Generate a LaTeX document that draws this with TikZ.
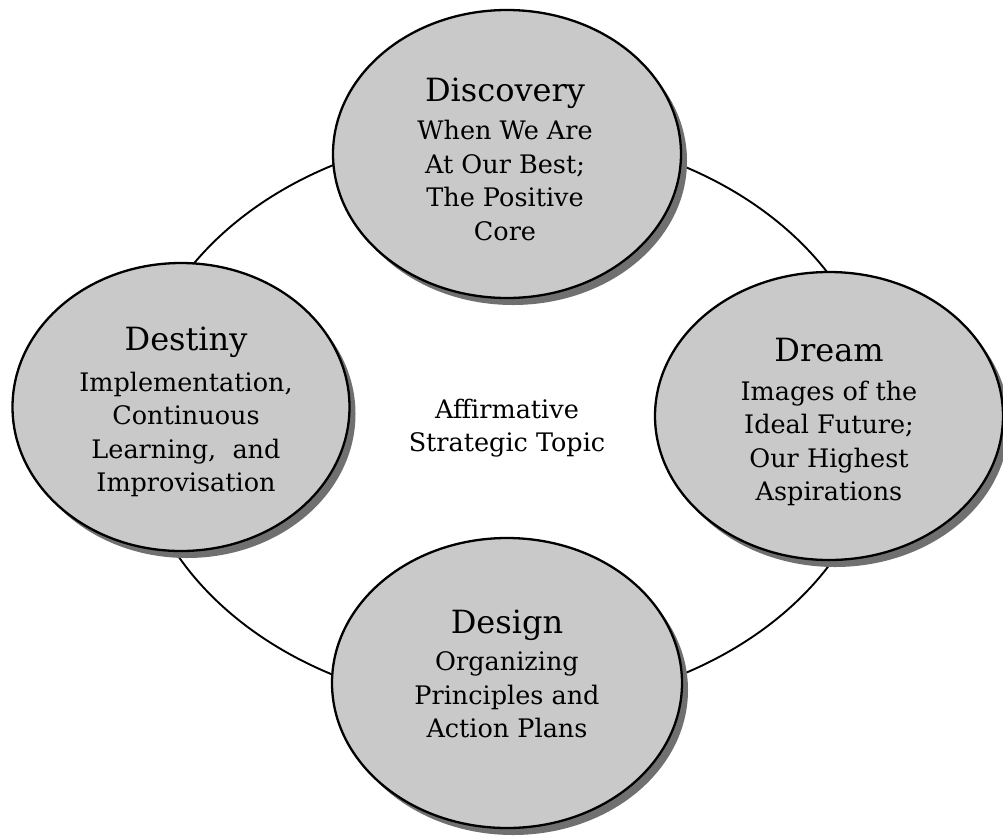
\documentclass[tikz,border=0pt]{standalone}
\usepackage{fontspec}
\setmainfont{DejaVu Serif}
\usetikzlibrary{shapes.geometric,shadows}
\definecolor{phasefill}{RGB}{201,201,201}
\definecolor{phaseshade}{RGB}{112,112,112}
\newcommand{\phasetitle}[1]{{\fontsize{32}{36}\selectfont #1}}
\begin{document}
\begin{tikzpicture}[x=1pt,y=-1pt,
  phase/.style={ellipse, draw=black, line width=2.3pt, fill=phasefill, inner sep=0pt,
    drop shadow={shadow xshift=6pt, shadow yshift=-7pt, fill=phaseshade, opacity=1}},
  phasetext/.style={align=center, inner sep=0pt, font=\fontsize{25.5}{33.5}\selectfont},
  cycle/.style={draw=black, line width=1.9pt}]
\useasboundingbox (0,0) rectangle (1003,839);

% the cycle joining the four phases
\draw[cycle] (507,420) ellipse [x radius=373pt, y radius=288pt];

% the four phases
\node[phase, minimum width=348pt, minimum height=288pt] (disc) at (507,154) {};
\node[phase, minimum width=337pt, minimum height=288pt] (dest) at (181,407) {};
\node[phase, minimum width=348pt, minimum height=288pt] (drm)  at (829,416) {};
\node[phase, minimum width=350pt, minimum height=290pt] (dsg)  at (507,683) {};

\node[phasetext] (disct) at (505,159) {\phasetitle{Discovery}\\[5pt]When We Are\\At Our Best;\\The Positive\\Core};
\node[phasetext] (destt) at (186,412) {\phasetitle{Destiny}\\[7pt]Implementation,\\Continuous\\Learning,\ \ and\\Improvisation};
\node[phasetext] (drmt)  at (829,422) {\phasetitle{Dream}\\[5pt]Images of the\\Ideal Future;\\Our Highest\\Aspirations};
\node[phasetext] (dsgt)  at (507,674) {\phasetitle{Design}\\[4pt]Organizing\\Principles and\\Action Plans};

% the topic at the centre
\node[phasetext] (topic) at (507,428) {Affirmative\\Strategic Topic};
\end{tikzpicture}
\end{document}
